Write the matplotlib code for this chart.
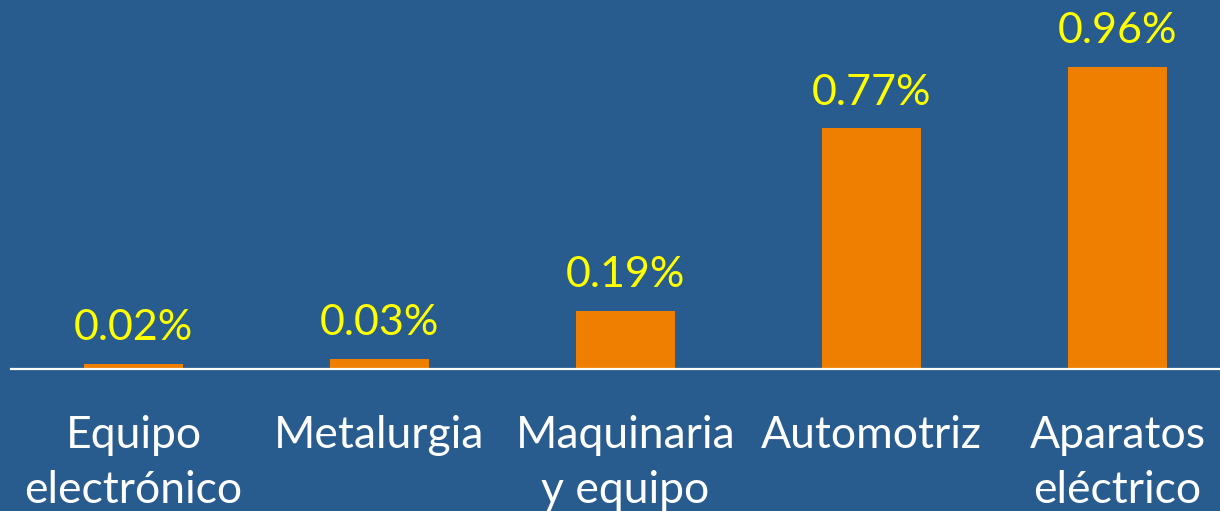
import matplotlib
matplotlib.use("Agg")
import matplotlib.pyplot as plt

categories = ["Equipo\nelectrónico", "Metalurgia", "Maquinaria\ny equipo", "Automotriz", "Aparatos\neléctrico"]
values = [0.02, 0.03, 0.19, 0.77, 0.96]
value_labels = ["0.02%", "0.03%", "0.19%", "0.77%", "0.96%"]
# bar heights as drawn (rounded labels above)
heights = [0.016, 0.032, 0.185, 0.765, 0.96]

BG = "#285C8F"
W, H = 1220, 511
fig = plt.figure(figsize=(W / 100, H / 100), dpi=100, facecolor=BG)
ax = fig.add_axes([10.5 / W, (H - 369) / H, (W - 10.5) / W, 369 / H])
ax.set_facecolor(BG)
x = list(range(len(categories)))
ax.bar(x, heights, width=0.40, color="#EE7F00", zorder=2)
ax.set_xlim(-0.5, (W - 133.5) / 246)
ax.set_ylim(0, 1.173)
for s in ["top", "left", "right"]:
    ax.spines[s].set_visible(False)
ax.spines["bottom"].set_color("white")
ax.spines["bottom"].set_linewidth(1.6)
ax.spines["bottom"].set_zorder(3)
ax.set_yticks([])
ax.set_xticks(x)
ax.set_xticklabels(categories, fontsize=32, color="white", family="Lato", linespacing=1.43)
ax.tick_params(axis="x", length=0, pad=33)
for xi, h, lab in zip(x, heights, value_labels):
    ax.annotate(lab, (xi, h), xytext=(0, 12), textcoords="offset points", ha="center", va="bottom",
                fontsize=31, color="#FFFF00", family="Lato")
fig.savefig("out.png", dpi=100, facecolor=BG)
